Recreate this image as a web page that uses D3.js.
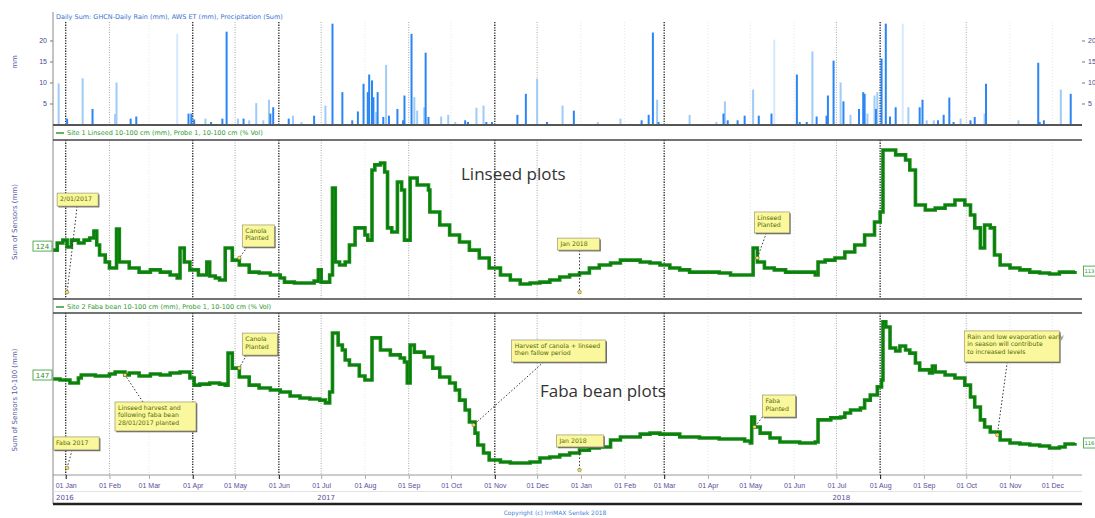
<!DOCTYPE html>
<html>
<head>
<meta charset="utf-8">
<script src="https://cdn.jsdelivr.net/npm/d3@7"></script>
<style>
  body { margin: 0; background: #fff; }
  svg { display: block; font-family: "DejaVu Sans", sans-serif; }
</style>
</head>
<body>
<svg id="chart" width="1095" height="518"></svg>
<script>
// ---- data ----
const rainStationDates = ["2017-01-02","2017-01-20","2017-02-16","2017-02-20","2017-03-29","2017-03-31","2017-04-02","2017-04-14","2017-04-22","2017-04-25","2017-05-07","2017-05-26","2017-05-28","2017-06-08","2017-06-26","2017-07-09","2017-07-16","2017-07-23","2017-07-27","2017-07-31","2017-08-03","2017-08-04","2017-08-06","2017-08-07","2017-08-10","2017-08-14","2017-08-18","2017-08-24","2017-08-28","2017-08-29","2017-09-03","2017-09-13","2017-09-15","2017-10-11","2017-10-13","2017-10-26","2017-10-30","2017-11-17","2017-11-23","2017-12-08","2017-12-27","2018-02-13","2018-02-18","2018-02-21","2018-02-25","2018-04-12","2018-04-15","2018-04-22","2018-04-27","2018-05-07","2018-05-16","2018-06-03","2018-06-05","2018-06-10","2018-06-17","2018-06-24","2018-06-25","2018-06-29","2018-07-06","2018-07-17","2018-07-20","2018-07-21","2018-07-29","2018-08-02","2018-08-05","2018-08-08","2018-08-12","2018-08-29","2018-08-31","2018-09-11","2018-09-15","2018-09-19","2018-09-22","2018-10-04","2018-10-07","2018-10-15","2018-11-21","2018-11-22","2018-11-25","2018-12-14"];
const rainStationMm = [1.4,3.7,1.4,1.9,2.6,2.6,1.2,0.6,1.4,22.1,1.4,2.6,4.1,1.4,2.1,24.0,7.7,1.0,3.1,9.7,7.7,11.9,10.5,6.5,7.7,1.8,2.1,3.7,1.0,6.9,21.6,17.1,1.8,1.0,0.6,0.6,0.6,2.3,7.3,0.6,3.3,1.0,2.3,21.9,0.6,2.6,1.0,1.0,2.1,2.1,2.6,11.9,0.6,0.6,1.9,2.1,6.9,15.2,5.5,3.7,7.7,7.3,3.7,15.7,24.0,1.9,4.1,4.1,5.9,1.0,2.3,6.4,0.6,1.0,1.8,9.7,14.7,0.6,1.0,7.3];

const rainGaugeDates = ["2016-12-27","2017-01-13","2017-02-05","2017-02-06","2017-03-21","2017-04-10","2017-05-03","2017-05-11","2017-05-16","2017-05-21","2017-05-25","2017-06-11","2017-06-17","2017-07-04","2017-08-09","2017-08-16","2017-09-05","2017-09-07","2017-09-12","2017-09-24","2017-09-29","2017-10-04","2017-10-19","2017-10-24","2017-12-01","2017-12-19","2018-01-13","2018-01-29","2018-02-24","2018-03-19","2018-04-07","2018-04-13","2018-05-03","2018-05-18","2018-06-14","2018-07-04","2018-07-11","2018-07-23","2018-07-28","2018-07-30","2018-08-17","2018-08-21","2018-09-03","2018-09-08","2018-09-27","2018-10-14","2018-11-07","2018-12-07"];
const rainGaugeMm = [9.8,11.0,2.5,10.0,21.6,1.4,1.4,1.0,5.1,1.0,5.9,2.1,0.6,4.5,3.0,14.2,6.5,3.3,4.1,1.9,2.3,0.6,4.0,4.5,10.9,4.5,0.6,1.4,5.9,2.3,0.6,5.5,8.3,20.2,17.4,10.0,2.3,2.6,6.9,7.7,24.0,4.1,1.0,1.0,1.4,2.6,1.0,8.3];

const linseedDates = ["2016-12-23","2016-12-26","2016-12-30","2017-01-02","2017-01-05","2017-01-10","2017-01-14","2017-01-18","2017-01-21","2017-01-23","2017-01-25","2017-01-29","2017-02-01","2017-02-05","2017-02-06","2017-02-08","2017-02-15","2017-02-22","2017-03-02","2017-03-09","2017-03-16","2017-03-21","2017-03-23","2017-03-26","2017-03-30","2017-04-05","2017-04-10","2017-04-11","2017-04-13","2017-04-17","2017-04-20","2017-04-24","2017-04-29","2017-05-04","2017-05-11","2017-05-18","2017-05-26","2017-06-02","2017-06-05","2017-06-12","2017-06-19","2017-06-26","2017-06-29","2017-07-01","2017-07-07","2017-07-09","2017-07-11","2017-07-14","2017-07-18","2017-07-21","2017-07-25","2017-07-28","2017-08-01","2017-08-03","2017-08-06","2017-08-08","2017-08-12","2017-08-15","2017-08-17","2017-08-20","2017-08-24","2017-08-27","2017-08-29","2017-09-02","2017-09-07","2017-09-15","2017-09-16","2017-09-23","2017-09-30","2017-10-07","2017-10-14","2017-10-21","2017-10-28","2017-11-05","2017-11-12","2017-11-19","2017-11-26","2017-12-03","2017-12-10","2017-12-17","2017-12-24","2017-12-31","2018-01-07","2018-01-14","2018-01-22","2018-01-29","2018-02-05","2018-02-12","2018-02-19","2018-02-26","2018-03-05","2018-03-12","2018-03-19","2018-03-26","2018-04-02","2018-04-09","2018-04-17","2018-04-24","2018-05-01","2018-05-03","2018-05-06","2018-05-11","2018-05-18","2018-05-26","2018-06-02","2018-06-09","2018-06-16","2018-06-18","2018-06-23","2018-06-30","2018-07-07","2018-07-14","2018-07-21","2018-07-28","2018-08-01","2018-08-03","2018-08-12","2018-08-19","2018-08-22","2018-08-26","2018-09-02","2018-09-09","2018-09-16","2018-09-23","2018-09-30","2018-10-04","2018-10-07","2018-10-11","2018-10-14","2018-10-18","2018-10-21","2018-10-25","2018-11-01","2018-11-08","2018-11-15","2018-11-22","2018-11-29","2018-12-06","2018-12-17"];
const linseedMm = [123.9,127.5,129.0,125.5,129.0,127.5,129.0,130.1,133.6,126.5,121.4,117.8,114.8,114.8,134.6,117.8,114.8,112.7,113.8,112.7,111.2,109.7,125.0,117.8,113.8,111.2,111.2,117.8,110.7,109.7,108.7,125.0,118.8,116.3,112.7,112.2,111.2,109.7,107.6,107.1,107.1,108.1,113.8,107.6,111.2,155.5,117.8,116.3,117.8,126.5,135.2,135.2,131.6,129.0,164.7,167.3,168.3,163.7,135.2,133.1,158.6,154.5,129.0,160.6,157.1,154.5,143.3,136.7,131.6,128.0,123.9,119.9,114.8,111.2,108.7,106.6,107.1,107.6,108.7,110.2,111.2,112.2,114.8,116.3,117.3,118.8,118.8,117.8,117.3,116.3,114.8,113.8,112.7,112.7,112.7,112.2,111.2,111.2,111.2,125.0,117.8,114.8,113.8,112.7,112.7,112.7,111.2,117.8,118.8,119.9,122.9,126.5,131.6,138.2,143.3,174.9,172.4,169.8,164.7,146.9,144.3,145.3,146.9,149.4,146.9,141.8,135.2,125.0,136.7,135.2,121.4,116.3,114.8,113.8,112.7,112.2,111.7,112.7,113.2];

const fabaDates = ["2016-12-23","2016-12-28","2017-01-01","2017-01-04","2017-01-10","2017-01-12","2017-01-22","2017-02-01","2017-02-05","2017-02-08","2017-02-12","2017-02-15","2017-02-22","2017-03-02","2017-03-09","2017-03-16","2017-03-23","2017-03-30","2017-04-02","2017-04-06","2017-04-13","2017-04-20","2017-04-24","2017-04-26","2017-04-29","2017-05-04","2017-05-11","2017-05-18","2017-05-26","2017-06-02","2017-06-09","2017-06-16","2017-06-23","2017-06-30","2017-07-04","2017-07-07","2017-07-09","2017-07-13","2017-07-16","2017-07-18","2017-07-21","2017-07-25","2017-07-28","2017-08-01","2017-08-04","2017-08-06","2017-08-12","2017-08-19","2017-08-26","2017-08-29","2017-08-31","2017-09-02","2017-09-05","2017-09-12","2017-09-18","2017-09-23","2017-09-30","2017-10-04","2017-10-07","2017-10-11","2017-10-14","2017-10-18","2017-10-20","2017-10-24","2017-10-28","2017-11-05","2017-11-12","2017-11-19","2017-11-26","2017-12-03","2017-12-10","2017-12-17","2017-12-24","2017-12-31","2018-01-07","2018-01-14","2018-01-22","2018-01-29","2018-02-12","2018-02-19","2018-02-26","2018-03-12","2018-03-26","2018-04-09","2018-04-27","2018-05-01","2018-05-02","2018-05-04","2018-05-08","2018-05-15","2018-05-22","2018-05-29","2018-06-05","2018-06-16","2018-06-18","2018-06-27","2018-07-04","2018-07-07","2018-07-11","2018-07-18","2018-07-21","2018-07-25","2018-07-30","2018-08-02","2018-08-03","2018-08-05","2018-08-08","2018-08-12","2018-08-15","2018-08-19","2018-08-22","2018-08-26","2018-08-29","2018-09-05","2018-09-07","2018-09-09","2018-09-16","2018-09-23","2018-09-30","2018-10-04","2018-10-07","2018-10-11","2018-10-14","2018-10-18","2018-10-25","2018-11-01","2018-11-08","2018-11-15","2018-11-22","2018-11-29","2018-12-06","2018-12-10","2018-12-17"];
const fabaMm = [147.4,146.9,146.9,145.4,147.9,149.4,148.9,149.9,150.9,150.9,149.4,150.4,148.9,149.9,149.4,150.4,150.9,147.9,144.4,144.9,145.4,144.9,144.4,160.2,152.8,148.4,144.4,143.0,142.0,141.0,139.0,138.0,137.5,137.0,135.6,141.0,170.1,164.2,161.7,156.8,154.3,154.3,148.9,146.9,146.9,167.7,161.7,159.3,157.8,155.8,145.4,164.2,160.7,158.3,152.8,148.4,145.4,142.0,137.0,132.1,126.2,120.7,114.8,110.9,107.4,106.4,105.9,105.9,106.4,108.4,108.9,109.9,110.9,112.3,113.3,113.8,117.3,118.8,120.2,120.7,120.2,118.8,118.3,117.8,116.8,115.8,128.6,123.7,120.7,118.3,116.3,116.3,115.8,116.3,127.2,128.2,128.6,130.6,132.1,133.1,137.0,139.5,143.5,146.9,175.6,173.1,162.7,161.2,163.7,161.7,160.2,155.3,151.9,150.4,153.8,150.9,149.4,147.9,144.4,138.5,133.6,127.2,123.7,121.2,117.3,115.8,115.3,114.8,114.3,113.3,113.8,115.3,115.8];

const rainTicks = [5, 10, 15, 20];

// event dates drawn as dotted verticals
const eventDates = ["2017-01-01","2017-04-01","2017-06-01","2017-11-01","2018-03-01","2018-08-01"];
const gridDates = ["2017-02-01","2017-05-01","2017-07-01","2017-09-01","2017-12-01","2018-07-01","2018-10-01"];

// notes: anchor date/value, text lines
const linseedNotes = [
  { date: "2017-01-02", value: 102.5, lines: ["2/01/2017"] },
  { date: "2017-05-04", value: 119.9, lines: ["Canola", "Planted"] },
  { date: "2017-12-31", value: 102.5, lines: ["Jan 2018"] },
  { date: "2018-05-06", value: 119.9, lines: ["Linseed", "Planted"] }
];
const fabaNotes = [
  { date: "2017-05-04", value: 152.8, lines: ["Canola", "Planted"] },
  { date: "2017-02-12", value: 149.4, lines: ["Linseed harvest and", "following faba bean", "28/01/2017 planted"] },
  { date: "2017-01-02", value: 103.5, lines: ["Faba 2017"] },
  { date: "2017-10-17", value: 124.7, lines: ["Harvest of canola + linseed", "then fallow period"] },
  { date: "2017-12-31", value: 102.5, lines: ["Jan 2018"] },
  { date: "2018-05-04", value: 123.7, lines: ["Faba", "Planted"] },
  { date: "2018-10-23", value: 119.8, lines: ["Rain and low evaporation early", "in season will contribute", "to increased levels"] }
];

// ---- setup ----
const parse = d3.timeParse("%Y-%m-%d");
const svg = d3.select("#chart");
const left = 53, right = 1082;

const x = d3.scaleTime()
  .domain([parse("2016-12-23"), parse("2018-12-22")])
  .range([left, right]);

const yRain = d3.scaleLinear().domain([0, 24.4]).range([124.5, 22]);
const yLin = d3.scaleLinear().domain([100, 180]).range([297, 140]);
const yFaba = d3.scaleLinear().domain([100, 180]).range([475, 313]);

const panels = [
  { top: 22, bottom: 124.5 },
  { top: 140, bottom: 298 },
  { top: 313, bottom: 475 }
];

// clip for the two soil panels
const defs = svg.append("defs");
panels.forEach((p, i) => {
  defs.append("clipPath").attr("id", "clip" + i)
    .append("rect")
    .attr("x", left).attr("y", p.top)
    .attr("width", right - left).attr("height", p.bottom - p.top);
});

// month gridlines (faint) + grey and black dotted markers
const months = d3.timeMonth.range(parse("2017-01-01"), x.domain()[1]);
const fmtKey = d3.timeFormat("%Y-%m-%d");
panels.forEach(p => {
  const g = svg.append("g");
  g.selectAll("line.m")
    .data(months.filter(m => !eventDates.includes(fmtKey(m)) && !gridDates.includes(fmtKey(m))))
    .enter().append("line")
    .attr("x1", d => x(d)).attr("x2", d => x(d))
    .attr("y1", p.top).attr("y2", p.bottom)
    .attr("stroke", "#e4e4e4").attr("stroke-dasharray", "1,2");
  g.selectAll("line.g")
    .data(gridDates.map(parse))
    .enter().append("line")
    .attr("x1", d => x(d)).attr("x2", d => x(d))
    .attr("y1", p.top).attr("y2", p.bottom)
    .attr("stroke", "#a8a8a8").attr("stroke-dasharray", "1,1.5");
  g.selectAll("line.e")
    .data(eventDates.map(parse))
    .enter().append("line")
    .attr("x1", d => x(d)).attr("x2", d => x(d))
    .attr("y1", p.top).attr("y2", p.bottom)
    .attr("stroke", "#222").attr("stroke-width", 1.3).attr("stroke-dasharray", "1.3,1.3");
});

// ---- rain bars ----
const gauge = rainGaugeDates.map((d, i) => ({ date: parse(d), mm: rainGaugeMm[i] }));
const station = rainStationDates.map((d, i) => ({ date: parse(d), mm: rainStationMm[i] }));

svg.append("g").selectAll("rect")
  .data(gauge).enter().append("rect")
  .attr("x", d => x(d.date) - 1).attr("width", 2)
  .attr("y", d => yRain(d.mm)).attr("height", d => yRain(0) - yRain(d.mm))
  .attr("fill", d => d.mm > 20 ? "#d6e9fd" : "#9fcbf8");

svg.append("g").selectAll("rect")
  .data(station).enter().append("rect")
  .attr("x", d => x(d.date) - 1).attr("width", 2)
  .attr("y", d => yRain(d.mm)).attr("height", d => yRain(0) - yRain(d.mm))
  .attr("fill", "#2b86f4");

// rain axes
const axL = svg.append("g").attr("transform", `translate(${left},0)`)
  .call(d3.axisLeft(yRain).tickValues(rainTicks).tickSize(3));
const axR = svg.append("g").attr("transform", `translate(${right},0)`)
  .call(d3.axisRight(yRain).tickValues(rainTicks).tickSize(3));
[axL, axR].forEach(a => {
  a.select(".domain").remove();
  a.selectAll("text").attr("font-size", 7).attr("fill", "#4b4b8c");
  a.selectAll("line").attr("stroke", "#777");
});

// ---- soil moisture lines ----
const linData = linseedDates.map((d, i) => ({ date: parse(d), mm: linseedMm[i] }));
const fabaData = fabaDates.map((d, i) => ({ date: parse(d), mm: fabaMm[i] }));

function drawLine(data, y, clip) {
  const line = d3.line().curve(d3.curveStepAfter)
    .x(d => x(d.date)).y(d => y(d.mm));
  svg.append("path").datum(data)
    .attr("clip-path", `url(#${clip})`)
    .attr("fill", "none").attr("stroke", "#158c15")
    .attr("stroke-width", 3.6).attr("stroke-linejoin", "miter")
    .attr("d", line);
  svg.append("path").datum(data)
    .attr("clip-path", `url(#${clip})`)
    .attr("fill", "none").attr("stroke", "#0b7a0b")
    .attr("stroke-width", 1.2)
    .attr("d", line);
}
drawLine(linData, yLin, "clip1");
drawLine(fabaData, yFaba, "clip2");

// value boxes at both ends
const fmtV = d3.format(".0f");
function valueBox(data, y) {
  const first = data[0], last = data[data.length - 1];
  const g = svg.append("g").attr("fill", "#2c8c2c");
  g.append("rect").attr("x", 33).attr("y", y(first.mm) - 9).attr("width", 19).attr("height", 10)
    .attr("fill", "#fff").attr("stroke", "#47a447").attr("stroke-width", 0.9);
  g.append("line").attr("x1", 52).attr("x2", left).attr("y1", y(first.mm) - 4).attr("y2", y(first.mm) - 4)
    .attr("stroke", "#47a447");
  g.append("text").attr("x", 42.5).attr("y", y(first.mm) - 1.5).attr("font-size", 7)
    .attr("text-anchor", "middle").text(fmtV(first.mm));
  g.append("rect").attr("x", right + 1.5).attr("y", y(last.mm) - 5).attr("width", 12.5).attr("height", 10)
    .attr("fill", "#fff").attr("stroke", "#47a447").attr("stroke-width", 0.9);
  g.append("text").attr("x", right + 2.5).attr("y", y(last.mm) + 2).attr("font-size", 5.2)
    .text(fmtV(last.mm));
}
valueBox(linData, yLin);
valueBox(fabaData, yFaba);

// ---- annotations ----
// box offsets (px) relative to the anchor point: [dx, dy, w, h, leaderX, leaderY]
const linseedBoxes = [
  [-10, -99, 41, 13, 10, -86],
  [3, -33, 32, 22, 8, -11],
  [-22, -54, 42, 12, 0, -42],
  [-3, -46, 35, 21, 9, -25]
];
const fabaBoxes = [
  [3, -35, 35, 22, 7, -13],
  [-10, 27, 81, 29, 18, 27],
  [-14, -31, 46, 13, 5, -18],
  [38, -85, 94, 22, 70, -63],
  [-23, -35, 47, 12, 0, -23],
  [8, -32, 33, 22, 8, -10],
  [-33, -104, 95, 31, 10, -73]
];

function drawNotes(notes, boxes, y) {
  notes.forEach((n, i) => {
    const px = x(parse(n.date)), py = y(n.value);
    const [dx, dy, w, h, lx, ly] = boxes[i];
    const g = svg.append("g");
    g.append("line").attr("x1", px + lx).attr("y1", py + ly).attr("x2", px).attr("y2", py)
      .attr("stroke", "#333").attr("stroke-width", 1).attr("stroke-dasharray", "1.5,2");
    g.append("rect").attr("x", px + dx + 1.3).attr("y", py + dy + 1.3).attr("width", w).attr("height", h)
      .attr("fill", "#666");
    g.append("rect").attr("x", px + dx).attr("y", py + dy).attr("width", w).attr("height", h)
      .attr("fill", "#fbf79c").attr("stroke", "#9a9a70").attr("stroke-width", 0.7);
    g.selectAll("text").data(n.lines).enter().append("text")
      .attr("x", px + dx + 3).attr("y", (d, j) => py + dy + 8 + j * 7.5)
      .attr("font-size", 6.2).attr("fill", "#4f6b08").text(d => d);
    g.append("circle").attr("cx", px).attr("cy", py).attr("r", 1.8)
      .attr("fill", "#f2e64a").attr("stroke", "#555").attr("stroke-width", 0.5);
  });
}
drawNotes(linseedNotes, linseedBoxes, yLin);
drawNotes(fabaNotes, fabaBoxes, yFaba);

// panel titles
svg.append("text").attr("x", 461).attr("y", 180)
  .attr("font-family", "'Open Sans', sans-serif").attr("font-size", 17).attr("fill", "#333")
  .text("Linseed plots");
svg.append("text").attr("x", 540).attr("y", 397)
  .attr("font-family", "'Open Sans', sans-serif").attr("font-size", 17).attr("fill", "#333")
  .text("Faba bean plots");

// ---- frame lines ----
const frame = svg.append("g");
frame.append("line").attr("x1", left).attr("x2", left).attr("y1", 12).attr("y2", 504).attr("stroke", "#888");
[[125, "#555", 2.2], [140, "#444", 1.6], [299, "#444", 1.6], [313, "#444", 1.6], [475, "#999", 1], [491.5, "#e2e2e2", 1], [504, "#222", 2.6]]
  .forEach(([yy, c, w]) => frame.append("line").attr("x1", left).attr("x2", right)
    .attr("y1", yy).attr("y2", yy).attr("stroke", c).attr("stroke-width", w));

// legends in panel headers
svg.append("text").attr("x", 56).attr("y", 19).attr("font-size", 6.5).attr("fill", "#3b72d4")
  .text("Daily Sum: GHCN-Daily Rain (mm), AWS ET (mm), Precipitation (Sum)");
[[135, "Site 1 Linseed 10-100 cm (mm), Probe 1, 10-100 cm (% Vol)"],
 [309, "Site 2 Faba bean 10-100 cm (mm), Probe 1, 10-100 cm (% Vol)"]].forEach(([yy, t]) => {
  svg.append("line").attr("x1", 56).attr("x2", 64).attr("y1", yy - 2).attr("y2", yy - 2)
    .attr("stroke", "#2c9a2c").attr("stroke-width", 1.5);
  svg.append("text").attr("x", 67).attr("y", yy).attr("font-size", 6.5).attr("fill", "#2c9a2c").text(t);
});

// rotated y titles
[[17, 62, "mm"], [17, 222, "Sum of Sensors (mm)"], [17, 400, "Sum of Sensors 10-100 (mm)"]].forEach(([xx, yy, t]) => {
  svg.append("text").attr("transform", `translate(${xx},${yy}) rotate(-90)`)
    .attr("text-anchor", "middle").attr("font-size", 7).attr("fill", "#5656a0").text(t);
});

// ---- time axis ----
const xAxis = svg.append("g").attr("transform", "translate(0,475)")
  .call(d3.axisBottom(x).ticks(d3.timeMonth.every(1)).tickFormat(d3.timeFormat("%d %b")).tickSize(4));
xAxis.select(".domain").remove();
xAxis.selectAll("line").attr("stroke", d => eventDates.includes(fmtKey(d)) ? "#111" : "#aaa");
xAxis.selectAll("text").attr("font-size", 7).attr("fill", "#5a4c9c").attr("dy", "0.9em");

// year labels
[2016, 2017, 2018].forEach(yr => {
  const mid = x(new Date(yr, 6, 1));
  svg.append("text").attr("x", Math.max(left + 3, mid - 4)).attr("y", 500)
    .attr("font-size", 7).attr("fill", "#5a4c9c").text(yr);
});

svg.append("text").attr("x", 555).attr("y", 515).attr("text-anchor", "middle")
  .attr("font-size", 6).attr("fill", "#4a86d8").text("Copyright (c) IrriMAX Sentek 2018");
</script>
</body>
</html>
